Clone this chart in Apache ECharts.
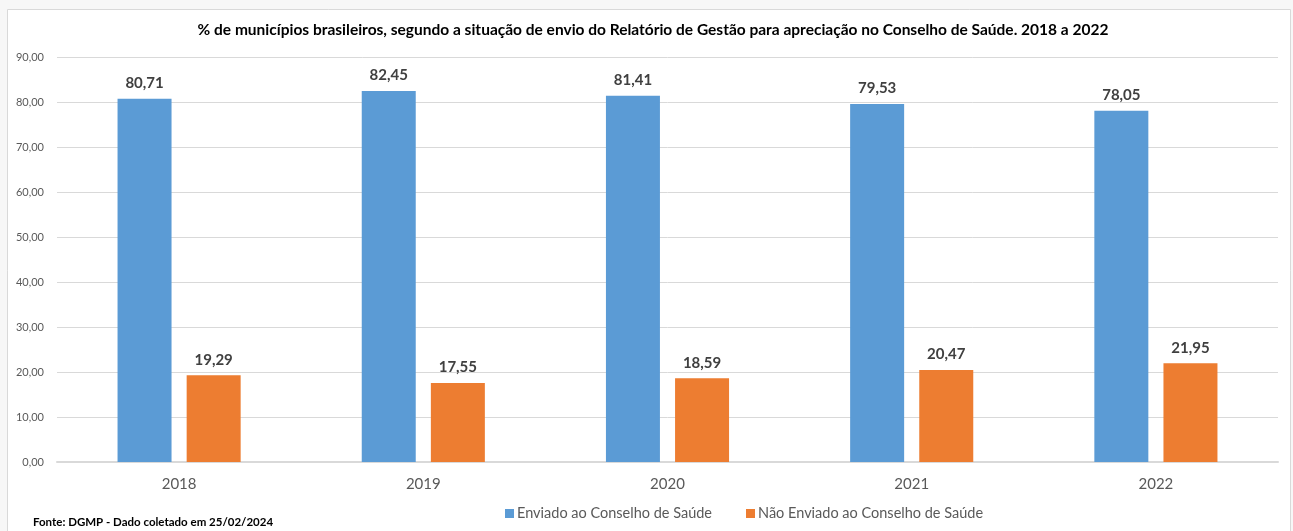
<!DOCTYPE html>
<html>
<head>
<meta charset="utf-8">
<script src="https://cdn.jsdelivr.net/npm/echarts@6/dist/echarts.min.js"></script>
<style>
html,body{margin:0;padding:0;background:#f7f7f7;}
#c{width:1293px;height:531px;}
</style>
</head>
<body>
<div id="c"></div>
<script>
const categories = ['2018','2019','2020','2021','2022'];
const enviado = [80.71, 82.45, 81.41, 79.53, 78.05];
const naoEnviado = [19.29, 17.55, 18.59, 20.47, 21.95];
const seriesNames = ['Enviado ao Conselho de Saúde', 'Não Enviado ao Conselho de Saúde'];
const titleText = '% de municípios brasileiros, segundo a situação de envio do Relatório de Gestão para apreciação no Conselho de Saúde. 2018 a 2022';
const sourceText = 'Fonte: DGMP - Dado coletado em 25/02/2024';

const FONT = 'Lato, "Liberation Sans", sans-serif';
const fmt = v => Number(v).toFixed(2).replace('.', ',');

const chart = echarts.init(document.getElementById('c'), null, {renderer:'canvas'});
chart.setOption({
  backgroundColor: '#f7f7f7',
  animation: false,
  textStyle: {fontFamily: FONT},
  title: {
    text: titleText,
    left: 648, top: 17, textAlign: 'center',
    textStyle: {fontFamily: FONT, fontSize: 15.5, fontWeight: 'bold', color: '#000'}
  },
  graphic: [
    {type:'rect', z:-100, shape:{x:7.5, y:9.5, width:1283, height:530}, style:{fill:'#fff', stroke:'#d9d9d9', lineWidth:1}},
    {type:'text', left:33, top:516, style:{text: sourceText, font: 'bold 11.5px ' + FONT, fill:'#000'}}
  ],
  legend: {
    data: seriesNames,
    left: 500, top: 501,
    itemWidth: 9, itemHeight: 9, itemGap: 34,
    icon: 'rect',
    textStyle: {fontFamily: FONT, fontSize: 14.5, color: '#595959', padding:[0,0,0,-2]}
  },
  grid: {left: 57, right: 15, top: 57, bottom: 69},
  xAxis: {
    type: 'category',
    data: categories,
    axisLine: {lineStyle: {color: '#d9d9d9', width: 2}},
    axisTick: {show: false},
    axisLabel: {fontFamily: FONT, fontSize: 15, color: '#595959', margin: 15}
  },
  yAxis: {
    type: 'value',
    min: 0, max: 90, interval: 10,
    axisLine: {show: false},
    axisTick: {show: false},
    splitLine: {lineStyle: {color: '#d9d9d9', width: 1}},
    axisLabel: {fontFamily: FONT, fontSize: 11, color: '#595959', margin: 13, formatter: fmt}
  },
  series: [
    {
      name: seriesNames[0], type: 'bar', data: enviado,
      barWidth: 54, barGap: '28%',
      itemStyle: {color: '#5b9bd5'},
      label: {show: true, position: 'top', distance: 8, formatter: p => fmt(p.value),
        fontFamily: FONT, fontSize: 15, fontWeight: 'bold', color: '#404040'}
    },
    {
      name: seriesNames[1], type: 'bar', data: naoEnviado,
      barWidth: 54,
      itemStyle: {color: '#ed7d31'},
      label: {show: true, position: 'top', distance: 8, formatter: p => fmt(p.value),
        fontFamily: FONT, fontSize: 15, fontWeight: 'bold', color: '#404040'}
    }
  ]
});
</script>
</body>
</html>
